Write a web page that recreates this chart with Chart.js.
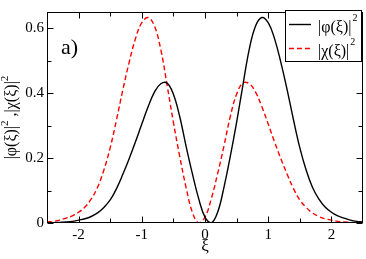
<!DOCTYPE html>
<html><head><meta charset="utf-8">
<script src="https://cdn.jsdelivr.net/npm/chart.js@4/dist/chart.umd.min.js"></script>
<style>html,body{margin:0;padding:0;background:#fff}#wrap{width:366px;height:259px}</style>
</head><body><div id="wrap"><canvas id="c" width="366" height="259"></canvas></div>
<script>
const xi = [-2.5,-2.4,-2.3,-2.2,-2.1,-2.0,-1.9,-1.8,-1.7,-1.6,-1.5,-1.4,-1.3,-1.2,-1.1,-1.0,-0.9,-0.8,-0.7,-0.6,-0.5,-0.4,-0.3,-0.2,-0.1,0.0,0.1,0.2,0.3,0.4,0.5,0.6,0.7,0.8,0.9,1.0,1.1,1.2,1.3,1.4,1.5,1.6,1.7,1.8,1.9,2.0,2.1,2.2,2.3,2.4,2.5];
const phi2 = [0.001,0.001,0.002,0.003,0.005,0.009,0.013,0.020,0.031,0.048,0.071,0.106,0.150,0.198,0.250,0.305,0.358,0.403,0.429,0.431,0.397,0.328,0.237,0.152,0.075,0.018,0.000,0.033,0.110,0.205,0.310,0.425,0.535,0.607,0.633,0.617,0.568,0.495,0.410,0.318,0.232,0.163,0.110,0.074,0.049,0.033,0.022,0.015,0.009,0.005,0.003];
const chi2 = [0.003,0.005,0.009,0.015,0.022,0.033,0.049,0.074,0.110,0.163,0.232,0.318,0.410,0.495,0.568,0.617,0.633,0.607,0.535,0.425,0.310,0.205,0.110,0.033,0.000,0.018,0.075,0.152,0.237,0.328,0.397,0.431,0.429,0.403,0.358,0.305,0.250,0.198,0.150,0.106,0.071,0.048,0.031,0.020,0.013,0.009,0.005,0.003,0.002,0.001,0.001];
const seriesLabels = ['|φ(ξ)|', '|χ(ξ)|'];
const xTicks = [-2, -1, 0, 1, 2];
const xMinor = [-1.5, -0.5, 0.5, 1.5];
const yTicks = [0, 0.2, 0.4, 0.6];
const yMinor = [0.1, 0.3, 0.5];
const xTitle = 'ξ';
const yTitleParts = [['|φ(ξ)|', false], ['2', true], [' ,|χ(ξ)|', false], ['2', true]];
const panelLabel = 'a)';

const SERIF = '"Liberation Serif", "DejaVu Serif", serif';

function drawParts(ctx, parts, x, y, size, supSize, rise) {
  let total = 0;
  parts.forEach(([t, sup]) => { ctx.font = (sup ? supSize : size) + 'px ' + SERIF; total += ctx.measureText(t).width; });
  let cx = x - total / 2;
  ctx.textAlign = 'left';
  parts.forEach(([t, sup]) => {
    ctx.font = (sup ? supSize : size) + 'px ' + SERIF;
    ctx.fillText(t, cx, sup ? y - rise : y);
    cx += ctx.measureText(t).width;
  });
}

const framePlugin = {
  id: 'frame',
  afterDatasetsDraw(chart) {
    const ctx = chart.ctx, a = chart.chartArea;
    const xs = chart.scales.x, ys = chart.scales.y;
    ctx.save();
    ctx.strokeStyle = '#000';
    ctx.lineWidth = 1;
    const L = Math.round(a.left) + 0.5, R = Math.round(a.right) - 0.5;
    const T = Math.round(a.top) + 0.5, B = Math.round(a.bottom) - 0.5;
    ctx.strokeRect(L, T, R - L, B - T);
    ctx.beginPath();
    const tx = (v, len) => { const p = Math.round(xs.getPixelForValue(v)) + 0.5; ctx.moveTo(p, B); ctx.lineTo(p, B - len); ctx.moveTo(p, T); ctx.lineTo(p, T + len); };
    const ty = (v, len) => { const p = Math.round(ys.getPixelForValue(v)) + 0.5; ctx.moveTo(L, p); ctx.lineTo(L + len, p); ctx.moveTo(R, p); ctx.lineTo(R - len, p); };
    xTicks.forEach(v => tx(v, 6));
    xMinor.forEach(v => tx(v, 4));
    yTicks.forEach(v => ty(v, 6));
    yMinor.forEach(v => ty(v, 4));
    ctx.stroke();

    // titles
    ctx.fillStyle = '#000';
    ctx.font = '17px ' + SERIF;
    ctx.textAlign = 'center';
    ctx.textBaseline = 'alphabetic';
    ctx.fillText(xTitle, (a.left + a.right) / 2, 251);
    ctx.save();
    ctx.translate(16, (a.top + a.bottom) / 2);
    ctx.rotate(-Math.PI / 2);
    drawParts(ctx, yTitleParts, 0, 0, 16, 11, 8);
    ctx.restore();

    // panel label
    ctx.font = '22px ' + SERIF;
    ctx.textAlign = 'left';
    ctx.fillText(panelLabel, 61, 54);

    // legend
    const bx = 285.5, by = 10.5, bw = 76, bh = 51;
    ctx.fillStyle = '#fff';
    ctx.fillRect(bx, by, bw, bh);
    ctx.strokeStyle = '#000';
    ctx.lineWidth = 1;
    ctx.strokeRect(bx, by, bw, bh);
    const rows = [24.5, 48.5];
    chart.data.datasets.forEach((ds, i) => {
      const y = rows[i];
      ctx.beginPath();
      ctx.strokeStyle = ds.borderColor;
      ctx.lineWidth = ds.borderWidth;
      ctx.setLineDash(ds.borderDash || []);
      ctx.moveTo(289, y); ctx.lineTo(311, y);
      ctx.stroke();
      ctx.setLineDash([]);
      ctx.fillStyle = '#000';
      ctx.font = '16px ' + SERIF;
      ctx.textAlign = 'left';
      ctx.fillText(ds.label, 318, y + 7);
      const w = ctx.measureText(ds.label).width;
      ctx.font = '10px ' + SERIF;
      ctx.fillText('2', 318 + w + 1, y - 4);
    });
    ctx.restore();
  }
};

new Chart(document.getElementById('c'), {
  type: 'line',
  data: {
    datasets: [
      { label: seriesLabels[0], data: xi.map((x, i) => ({ x, y: phi2[i] })), borderColor: '#000000', borderWidth: 1.4, pointRadius: 0, fill: false, tension: 0.4 },
      { label: seriesLabels[1], data: xi.map((x, i) => ({ x, y: chi2[i] })), borderColor: '#ff0000', borderWidth: 1.4, borderDash: [5, 3], pointRadius: 0, fill: false, tension: 0.4 }
    ]
  },
  options: {
    responsive: false,
    animation: false,
    devicePixelRatio: 1,
    layout: { padding: { top: 2, right: 3, left: 0, bottom: 0 } },
    plugins: { legend: { display: false }, tooltip: { enabled: false } },
    scales: {
      x: {
        type: 'linear', min: -2.5, max: 2.5,
        afterBuildTicks: s => { s.ticks = xTicks.map(v => ({ value: v })); },
        afterFit: s => { s.height = 36; },
        grid: { display: false, drawTicks: false },
        border: { display: false },
        ticks: { color: '#000', font: { family: SERIF, size: 15 }, padding: 3, maxRotation: 0, autoSkip: false, callback: v => String(v) }
      },
      y: {
        type: 'linear', min: 0, max: 0.65,
        afterBuildTicks: s => { s.ticks = yTicks.map(v => ({ value: v })); },
        afterFit: s => { s.width = 47; },
        grid: { display: false, drawTicks: false },
        border: { display: false },
        ticks: { color: '#000', font: { family: SERIF, size: 15 }, padding: 3, autoSkip: false, callback: v => String(v) }
      }
    }
  },
  plugins: [framePlugin]
});
</script>
</body></html>
